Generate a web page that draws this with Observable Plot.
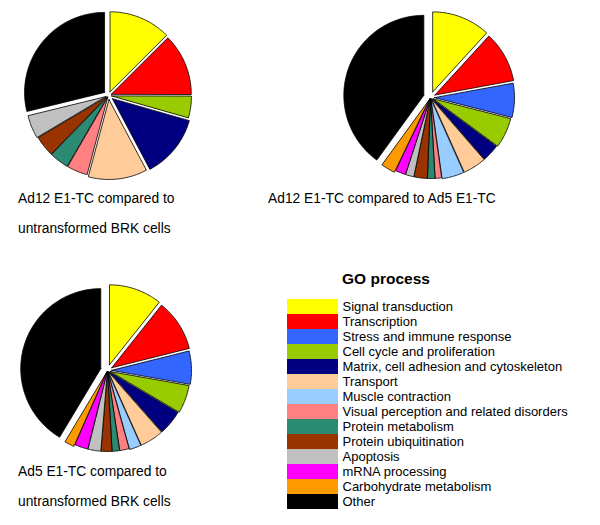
<!DOCTYPE html>
<html>
<head>
<meta charset="utf-8">
<script src="https://cdn.jsdelivr.net/npm/d3@7"></script>
<script src="https://cdn.jsdelivr.net/npm/@observablehq/plot@0.6"></script>
<style>
  body { margin: 0; background: #fff; font-family: "Liberation Sans", Arial, sans-serif; }
  #page { position: relative; width: 600px; height: 525px; overflow: hidden; background: #fff; }
  .abs { position: absolute; }
  .lbl { font-size: 13.8px; line-height: 30px; color: #000; white-space: nowrap; }
  .ttl { font-size: 15.5px; font-weight: bold; color: #000; white-space: nowrap; }
</style>
</head>
<body>
<div id="page"></div>
<script>
// ---- data ----
const categories = [
  "Signal transduction",
  "Transcription",
  "Stress and immune response",
  "Cell cycle and proliferation",
  "Matrix, cell adhesion and cytoskeleton",
  "Transport",
  "Muscle contraction",
  "Visual perception and related disorders",
  "Protein metabolism",
  "Protein ubiquitination",
  "Apoptosis",
  "mRNA processing",
  "Carbohydrate metabolism",
  "Other"
];
const colors = [
  "#FFFF00", "#FF0000", "#3366FF", "#99CC00", "#000080", "#FFCC99", "#99CCFF",
  "#FF8080", "#2A8A72", "#993300", "#C0C0C0", "#FF00FF", "#FF9900", "#000000"
];
// percentage of genes per GO process
const ad12VsBRK = [12.5, 12.5, 0, 4.4, 12.8, 11.9, 0, 4.2, 3.9, 4.2, 4.7, 0, 0, 28.8];
const ad12VsAd5 = [11.8, 10.3, 6.9, 6.1, 3.5, 4.7, 4.5, 1.3, 1.5, 2.7, 1.7, 2.1, 2.9, 40.0];
const ad5VsBRK  = [10.7, 10.4, 6.7, 5.7, 5.0, 4.8, 2.4, 1.9, 1.5, 2.2, 2.6, 2.7, 2.0, 41.4];
const pieTitles = [
  ["Ad12 E1-TC compared to", "untransformed BRK cells"],
  ["Ad12 E1-TC compared to Ad5 E1-TC"],
  ["Ad5 E1-TC compared to", "untransformed BRK cells"]
];
const legendTitle = "GO process";

// ---- styles (explode distances, radius) ----
const explode1 = [4, 3, 0, 3, 5, 4, 0, 2, 2, 2, 3, 0, 0, 5];
const explode2 = [6, 5, 4, 3, 2, 2, 2, 1, 1, 1, 1, 1, 3, 7];
const explode3 = [6, 5, 4, 3, 2, 2, 2, 1, 1, 1, 1, 1, 3, 7];
const R = 80;

function slicePoints(values, explode) {
  const rows = categories.map((c, i) => ({cat: c, color: colors[i], value: values[i], ex: explode[i]}))
    .filter(d => d.value > 0);
  const arcs = d3.pie().sort(null).value(d => d.value)(rows);
  const pts = [];
  for (const a of arcs) {
    const mid = (a.startAngle + a.endAngle) / 2;
    const ox = a.data.ex * Math.sin(mid), oy = a.data.ex * Math.cos(mid);
    const base = {cat: a.data.cat, color: a.data.color};
    pts.push({...base, x: ox, y: oy});
    const n = Math.max(2, Math.ceil((a.endAngle - a.startAngle) / (Math.PI / 180)));
    for (let k = 0; k <= n; k++) {
      const t = a.startAngle + (a.endAngle - a.startAngle) * k / n;
      pts.push({...base, x: ox + R * Math.sin(t), y: oy + R * Math.cos(t)});
    }
    pts.push({...base, x: ox, y: oy});
  }
  return pts;
}

function pie(values, explode) {
  return Plot.plot({
    width: 200, height: 190, margin: 0,
    x: {domain: [-100, 100], axis: null},
    y: {domain: [-95, 95], axis: null},
    color: {type: "identity"},
    style: {background: "transparent", overflow: "visible"},
    marks: [
      Plot.line(slicePoints(values, explode), {
        x: "x", y: "y", z: "cat", fill: "color",
        stroke: "black", strokeWidth: 0.8, strokeLinejoin: "round"
      })
    ]
  });
}

const page = document.getElementById("page");
function place(el, left, top) {
  el.classList.add("abs");
  el.style.left = left + "px";
  el.style.top = top + "px";
  page.appendChild(el);
  return el;
}
function label(lines, left, top, cls) {
  const d = document.createElement("div");
  d.className = cls;
  d.innerHTML = lines.map(s => s.replace(/&/g, "&amp;")).join("<br>");
  return place(d, left, top);
}

place(pie(ad12VsBRK, explode1), 8, 0);
place(pie(ad12VsAd5, explode2), 330, 2);
place(pie(ad5VsBRK, explode3), 7, 275);

label(pieTitles[0], 18, 184, "lbl");
label(pieTitles[1], 268, 184, "lbl");
label(pieTitles[2], 18, 457, "lbl");

// legend
label([legendTitle], 342, 270, "ttl");
const legendRows = categories.map((c, i) => ({cat: c, color: colors[i]}));
const legend = Plot.plot({
  width: 300, height: 222, margin: 0,
  x: {domain: [0, 300], range: [0, 300], axis: null},
  y: {domain: categories, axis: null, padding: 0},
  color: {type: "identity"},
  style: {background: "transparent", overflow: "visible"},
  marks: [
    Plot.barX(legendRows, {x1: 0, x2: 51, y: "cat", fill: "color"}),
    Plot.text(legendRows, {x: 55, y: "cat", text: "cat", textAnchor: "start",
      fontSize: 13, fill: "black", fontFamily: "Liberation Sans, Arial, sans-serif"})
  ]
});
place(legend, 287, 293);
</script>
</body>
</html>
